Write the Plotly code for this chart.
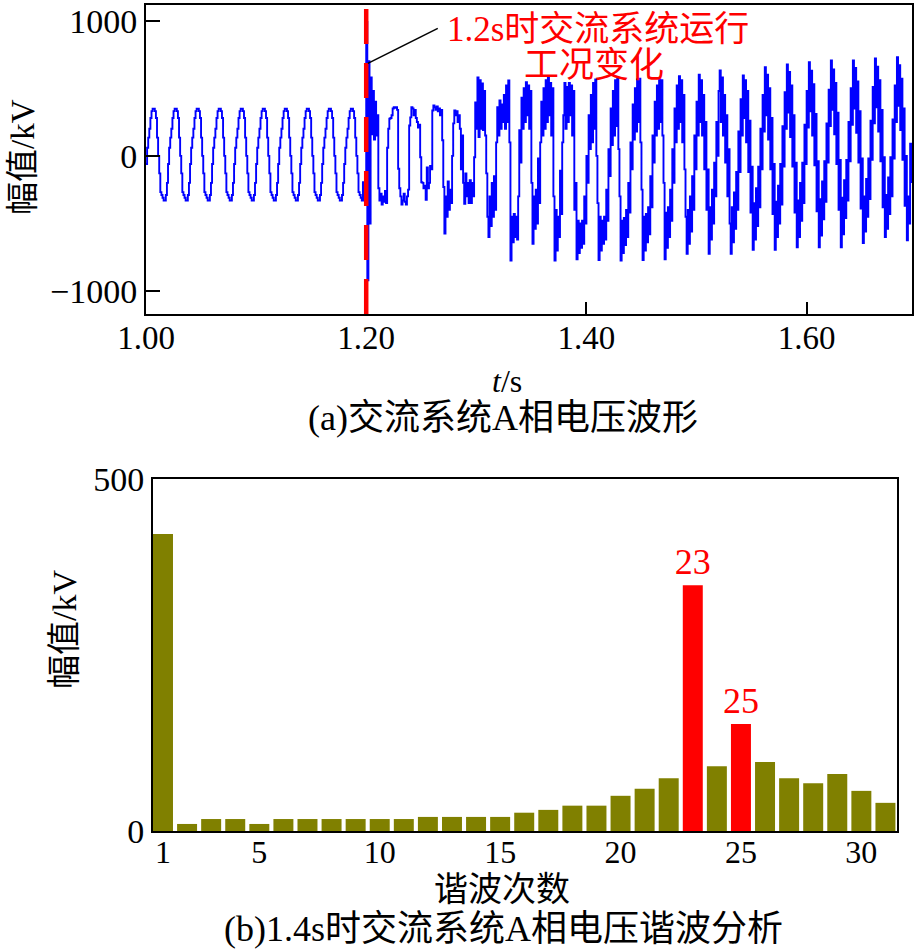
import numpy as np
import plotly.graph_objects as go

# ---------------- data: (a) A-phase voltage waveform, 1 ms samples from t = 1.000 s ----------------
t_start = 1.0
dt = 0.001

prefault_cycles = [
    [-60, 60, 135, 200, 280, 331, 349, 349, 331, 280, 135, 0, -130, -268, -290, -310, -330, -330, -290, -200],
    [-60, 60, 135, 200, 280, 331, 349, 349, 331, 280, 135, 0, -130, -268, -290, -310, -330, -330, -290, -200],
    [-60, 60, 135, 200, 280, 331, 349, 349, 331, 280, 135, 0, -130, -268, -290, -310, -330, -330, -290, -200],
    [-60, 60, 135, 200, 280, 331, 349, 349, 331, 280, 135, 0, -130, -268, -290, -310, -330, -330, -290, -200],
    [-60, 60, 135, 200, 280, 331, 349, 349, 331, 280, 135, 0, -130, -268, -290, -310, -330, -330, -290, -200],
    [-60, 60, 135, 200, 280, 331, 349, 349, 331, 280, 135, 0, -130, -268, -290, -310, -330, -330, -290, -200],
    [-60, 60, 135, 200, 280, 331, 349, 349, 331, 280, 135, 0, -130, -268, -290, -310, -330, -330, -290, -200],
    [-60, 60, 135, 200, 280, 331, 349, 349, 331, 280, 135, 0, -130, -268, -290, -310, -330, -330, -290, -200],
    [-60, 60, 135, 200, 280, 331, 349, 349, 331, 280, 135, 0, -130, -268, -290, -310, -330, -330, -290, -200],
    [-60, 60, 135, 200, 280, 331, 349, 349, 331, 280, 135, 0, -130, -268, -290, -310, -330, -195, -330, -200],
]

transition = [
    990, -920, 700, -500, 580, 160, 480, 120, 400, 150, 300,
    -240, -330, -280, -360, -300, -340, -260, -350, 60, 200,
    275, 280, 300, 350, 360, 355, 360, 340, -95, -240,
    -300, -360, -330, -280, -340, -360, -300, -250, 225, 285,
    360, 350, 300, 340, 280, 250, 210, 230, -10, -195,
    -200, -240, -220, -325, -85, -240, -200, -75, -100, 336,
    373, 360, 340, 365, 330, 350, 300, 340, 115, -230,
    -575, -300, -450, -190, -400, -250, -350, 0, 240, 336,
    300, 330, 250, 300, 200, -100, 150, -200, -355, -130,
    -300, -200, -350, -180, -350, -200, -300, -10, 395, 200,
    580, 140, 560, 200, 535, 190, 480, 150, -130, -450,
]

post_cycles = [
    [-600, -300, -520, -200, -450, -150, -400, 100, 360, 150, 410, 200, 380, 250, 450, 200, 520, 250, 558, 100],
    [-775, -450, -640, -430, -600, -450, -620, -300, 190, -50, 430, 200, 500, 250, 545, 300, 520, 200, 480, -200],
    [-650, -300, -540, -250, -500, -20, -350, 100, 400, 150, 500, 200, 560, 250, 580, 300, 540, 150, 500, -300],
    [-775, -400, -700, -450, -600, -110, -430, 100, 300, 540, 200, 510, 250, 540, 300, 520, 150, 480, -400, -200],
    [-765, -480, -720, -500, -680, -480, -650, -300, -500, 0, -200, 300, 50, 450, 100, 540, 200, 565, 0, -350],
    [-770, -450, -700, -480, -650, -450, -620, -250, -480, 50, -150, 350, 80, 480, 150, 560, 220, 570, 50, -300],
    [-775, -480, -720, -460, -660, -400, -600, -200, -420, 100, -100, 380, 120, 500, 180, 565, 250, 570, 100, -250],
    [-770, -450, -700, -430, -640, -380, -580, -150, -380, 150, -50, 400, 150, 520, 200, 570, 250, 560, 150, -200],
    [-765, -420, -680, -380, -600, -250, -480, 50, -200, 350, 100, 520, 200, 590, 250, 560, 100, 450, -100, -450],
    [-724, -400, -650, -300, -560, -150, -400, 150, -100, 400, 150, 600, 250, 560, 150, 450, -100, 250, -400, -100],
    [-724, -380, -620, -250, -500, -50, -300, 250, 0, 480, 632, 250, 580, 150, 450, -50, 300, -300, 50, -500],
    [-724, -380, -640, -270, -540, -120, -400, 180, -120, 420, 150, 595, 280, 560, 100, 480, -120, 260, -420, -80],
    [-695, -350, -620, -240, -520, -80, -380, 200, -100, 450, 180, 655, 300, 600, 120, 500, -100, 280, -430, -60],
    [-695, -340, -600, -220, -500, -60, -360, 220, -80, 470, 200, 677, 320, 620, 140, 520, -80, 300, -420, -50],
    [-676, -330, -600, -200, -480, -50, -350, 230, -60, 480, 210, 692, 330, 630, 150, 530, -70, 310, -410, -40],
    [-676, -320, -590, -190, -470, -40, -340, 240, -50, 490, 220, 706, 340, 640, 160, 540, -60, 320, -400, -30],
    [-676, -310, -580, -180, -460, -30, -330, 250, -40, 500, 230, 706, 350, 650, 170, 550, -50, 330, -390, -20],
    [-646, -300, -560, -170, -450, -20, -320, 260, -30, 510, 240, 721, 360, 660, 180, 560, -40, 340, -380, -10],
    [-601, -290, -540, -160, -430, -10, -300, 270, -20, 520, 250, 729, 370, 670, 190, 570, -30, 350, -370, 0],
]

tail = [-625, -300, -500, 90, -200]

event_time = 1.2
x_tickvals_a = [1.0, 1.2, 1.4, 1.6]
x_ticktext_a = ["1.00", "1.20", "1.40", "1.60"]
y_tickvals_a = [-1000, 0, 1000]
y_ticktext_a = ["\u22121000", "0", "1000"]

# ---------------- data: (b) harmonic spectrum at 1.4 s ----------------
harmonic_order = list(range(1, 32))
harmonic_amp = [422, 10, 17, 17, 10, 17, 17, 17, 17, 17, 17, 20, 20, 20, 20, 26,
                30, 36, 36, 50, 60, 75, 349, 92, 152, 98, 75, 68, 81, 57, 40]
highlight_orders = [23, 25]
x_tickvals_b = [1, 5, 10, 15, 20, 25, 30]
y_tickvals_b = [0, 500]

# ---------------- build ----------------
voltage = []
for row in prefault_cycles:
    voltage.extend(row)
voltage.extend(transition)
for row in post_cycles:
    voltage.extend(row)
voltage.extend(tail)
voltage = np.array(voltage, dtype=float)
time = t_start + dt * np.arange(len(voltage))

W, H = 919, 952
def px(x):
    return x / W
def py(y):
    return 1 - y / H

FONT = "Liberation Serif, 'Times New Roman', 'Noto Sans CJK SC', serif"
BLUE = "#0000FF"
RED = "#FF0000"
OLIVE = "#808000"

fig = go.Figure()

fig.add_trace(go.Scatter(
    x=time, y=voltage, mode="lines",
    line=dict(color=BLUE, width=1.9, shape="hv"),
    xaxis="x", yaxis="y", showlegend=False, hoverinfo="skip",
))

bar_colors = [RED if h in highlight_orders else OLIVE for h in harmonic_order]
bar_text = [str(h) if h in highlight_orders else "" for h in harmonic_order]
fig.add_trace(go.Bar(
    x=harmonic_order, y=harmonic_amp, marker=dict(color=bar_colors, line=dict(width=0)),
    text=bar_text, textposition="outside", cliponaxis=False, constraintext="none",
    textfont=dict(family=FONT, size=36, color=RED),
    xaxis="x2", yaxis="y2", showlegend=False, hoverinfo="skip",
))

axis_common = dict(showline=True, linewidth=2, linecolor="black", mirror=True,
                   showgrid=False, zeroline=False, automargin=False,
                   ticklabeloverflow="allow")

fig.update_layout(
    width=W, height=H,
    margin=dict(l=0, r=0, t=0, b=0),
    paper_bgcolor="white", plot_bgcolor="white",
    bargap=0.17,
    xaxis=dict(domain=[px(146), px(912)], range=[1.0, 1.6957], anchor="y",
               tickvals=x_tickvals_a, ticktext=x_ticktext_a,
               tickfont=dict(family=FONT, size=33, color="black"),
               ticks="inside", ticklen=12, tickwidth=2, tickcolor="black",
               ticklabelstandoff=-7, **axis_common),
    yaxis=dict(domain=[py(314), py(5)], range=[-1170, 1116], anchor="x",
               tickvals=y_tickvals_a, ticktext=y_ticktext_a,
               tickfont=dict(family=FONT, size=34, color="black"),
               ticks="inside", ticklen=14, tickwidth=2, tickcolor="black", **axis_common),
    xaxis2=dict(domain=[px(153), px(897)], range=[0.585, 31.48], anchor="y2",
                tickvals=x_tickvals_b, ticks="", ticklabelstandoff=-8,
                tickfont=dict(family=FONT, size=32, color="black"), **axis_common),
    yaxis2=dict(domain=[py(831), py(479)], range=[0, 500], anchor="x2",
                tickvals=y_tickvals_b, ticks="",
                tickfont=dict(family=FONT, size=34, color="black"), **axis_common),
)

# dashed event marker at t = 1.2 s
fig.add_shape(type="line", xref="x", yref="paper", x0=event_time, x1=event_time,
              y0=py(314), y1=py(5), layer="above",
              line=dict(color=RED, width=4.5, dash="35px,19px"))
# pointer line to the annotation
fig.add_shape(type="line", xref="x", yref="y", x0=1.2015, y0=684, x1=1.265, y1=943,
              layer="above", line=dict(color="black", width=1.6))

ann = [
    dict(text="1.2s时交流系统运行", x=px(598), y=py(29), size=35, color=RED),
    dict(text="工况变化", x=px(594), y=py(66), size=35, color=RED),
    dict(text="幅值/kV", x=px(23), y=py(157), size=33, color="black", angle=-90),
    dict(text="<i>t</i>/s", x=px(507), y=py(381), size=32, color="black"),
    dict(text="(a)交流系统A相电压波形", x=px(503), y=py(418), size=36, color="black"),
    dict(text="幅值/kV", x=px(64), y=py(630), size=34, color="black", angle=-90),
    dict(text="谐波次数", x=px(502), y=py(889), size=34, color="black"),
    dict(text="(b)1.4s时交流系统A相电压谐波分析", x=px(503), y=py(929), size=36, color="black"),
]
for a in ann:
    fig.add_annotation(text=a["text"], x=a["x"], y=a["y"], xref="paper", yref="paper",
                       xanchor="center", yanchor="middle", showarrow=False,
                       textangle=a.get("angle", 0),
                       font=dict(family=FONT, size=a["size"], color=a["color"]))

# remove the default 8 px page margin so the figure fills the window exactly
fig.write_html("out.html", config={"displayModeBar": False},
               post_script="document.body.style.margin='0';document.body.style.padding='0';")
